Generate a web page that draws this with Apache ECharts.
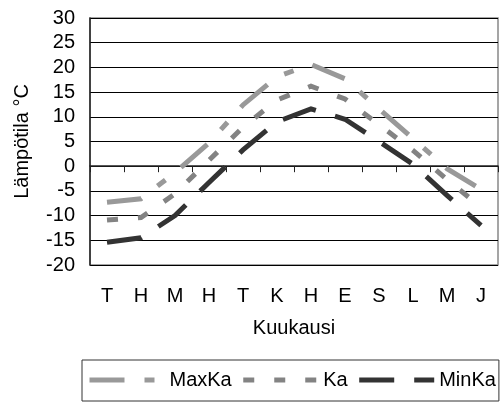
<!DOCTYPE html>
<html>
<head>
<meta charset="utf-8">
<script src="https://cdn.jsdelivr.net/npm/echarts@6/dist/echarts.min.js"></script>
<style>
  html, body { margin: 0; padding: 0; background: #fff; }
  #chart { width: 502px; height: 405px; }
</style>
</head>
<body>
<div id="chart"></div>
<script>
// Monthly temperatures (°C): mean maximum, mean and mean minimum
const months = ['T', 'H', 'M', 'H', 'T', 'K', 'H', 'E', 'S', 'L', 'M', 'J'];
const maxKa = [-7.3, -6.6, -1.3, 4.7, 12.4, 18.1, 20.6, 17.7, 11.6, 5.6, -0.5, -4.7];
const ka    = [-10.9, -10.4, -5.6, 1.2, 7.9, 13.4, 16.2, 13.6, 8.4, 3.2, -2.7, -8.3];
const minKa = [-15.4, -14.5, -10.0, -3.3, 3.3, 9.0, 11.6, 9.5, 5.0, 0.4, -5.9, -12.0];
const yMin = -20, yMax = 30, yStep = 5;

const FONT = "'Liberation Sans', Arial, sans-serif";
const textBase = { fontFamily: FONT, fontSize: 20, color: '#000' };

function lineSeries(name, data, color, dash) {
  return {
    name: name,
    type: 'line',
    data: data,
    symbol: 'none',
    silent: true,
    lineStyle: { color: color, width: 5, type: dash, cap: 'butt', join: 'miter' },
    itemStyle: { color: color }
  };
}

const chart = echarts.init(document.getElementById('chart'), null, { renderer: 'canvas' });
chart.setOption({
  animation: false,
  backgroundColor: '#fff',
  textStyle: { fontFamily: FONT },
  grid: {
    left: 90, top: 18, width: 408, height: 247,
    show: true, borderColor: '#888', borderWidth: 1.5, backgroundColor: 'transparent'
  },
  xAxis: {
    type: 'category',
    data: months,
    boundaryGap: true,
    name: 'Kuukausi',
    nameLocation: 'middle',
    nameGap: 53,
    nameTextStyle: textBase,
    axisLine: { lineStyle: { color: '#222', width: 1.5 } },
    axisTick: { show: true, length: 6, lineStyle: { color: '#222' } },
    axisLabel: Object.assign({ margin: 21, interval: 0 }, textBase),
    splitLine: { show: false }
  },
  yAxis: {
    type: 'value',
    min: yMin, max: yMax, interval: yStep,
    name: 'Lämpötila °C',
    nameLocation: 'middle',
    nameRotate: 90,
    nameGap: 58,
    nameTextStyle: textBase,
    axisLine: { show: true, lineStyle: { color: '#222', width: 1.5 } },
    axisTick: { show: false },
    axisLabel: Object.assign({ margin: 15 }, textBase),
    splitLine: { show: true, lineStyle: { color: '#000', width: 1 } }
  },
  legend: {
    left: 82, top: 360, width: 420,
    orient: 'horizontal',
    itemWidth: 75, itemHeight: 14, itemGap: 9,
    padding: [10, 3, 11, 5],
    borderColor: '#333', borderWidth: 1,
    textStyle: textBase,
    itemStyle: { opacity: 0 },
    lineStyle: { width: 5 },
    data: ['MaxKa', 'Ka', 'MinKa']
  },
  series: [
    lineSeries('MaxKa', maxKa, '#999999', [35, 20, 10, 20]),
    lineSeries('Ka', ka, '#838383', [11, 20]),
    lineSeries('MinKa', minKa, '#333333', [35, 20])
  ]
});
</script>
</body>
</html>
